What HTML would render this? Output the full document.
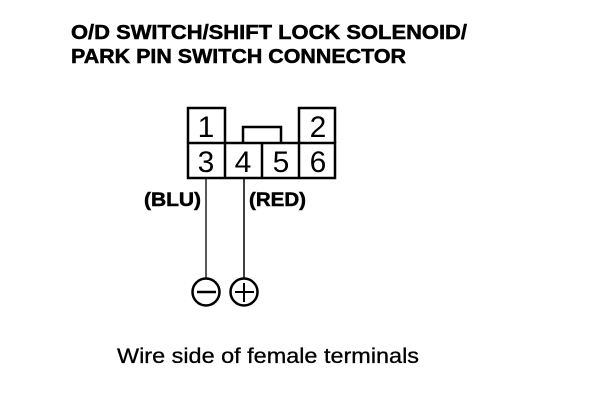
<!DOCTYPE html>
<html>
<head>
<meta charset="utf-8">
<style>
html,body{margin:0;padding:0;background:#fff;width:608px;height:406px;overflow:hidden}
svg{display:block}
text{font-family:"Liberation Sans",sans-serif;fill:#000}
</style>
</head>
<body>
<svg width="608" height="406" viewBox="0 0 608 406" xmlns="http://www.w3.org/2000/svg">
<g font-weight="bold" font-size="20" stroke="#000" stroke-width="0.5">
<text x="71" y="39" textLength="396" lengthAdjust="spacingAndGlyphs">O/D SWITCH/SHIFT LOCK SOLENOID/</text>
<text x="71" y="63" textLength="335" lengthAdjust="spacingAndGlyphs">PARK PIN SWITCH CONNECTOR</text>
</g>
<g fill="none" stroke="#000" stroke-width="2.5">
<path d="M188 143V108H225V143"/>
<path d="M299 143V108H335V143"/>
<path d="M243 143V127H281V143"/>
<rect x="188" y="143" width="147" height="35"/>
<path d="M225 143V178M262 143V178M299 143V178"/>
</g>
<g font-size="30" text-anchor="middle">
<text x="206" y="137">1</text>
<text x="318" y="137">2</text>
<text x="206" y="172">3</text>
<text x="243" y="172">4</text>
<text x="281" y="172">5</text>
<text x="318" y="172">6</text>
</g>
<g font-weight="bold" font-size="19" stroke="#000" stroke-width="0.5">
<text x="144" y="206" textLength="57" lengthAdjust="spacingAndGlyphs">(BLU)</text>
<text x="249" y="206" textLength="57" lengthAdjust="spacingAndGlyphs">(RED)</text>
</g>
<g fill="none" stroke="#000">
<path d="M206 178V278" stroke-width="1.3"/>
<path d="M244 178V278" stroke-width="1.5"/>
<circle cx="206" cy="292" r="13.5" stroke-width="2.5"/>
<circle cx="244" cy="292" r="13.5" stroke-width="2.5"/>
<path d="M197 292H216" stroke-width="2.5"/>
<path d="M235 292H254M244 283V302" stroke-width="2"/>
</g>
<text x="117" y="363" font-size="21" stroke="#000" stroke-width="0.3" textLength="302" lengthAdjust="spacingAndGlyphs">Wire side of female terminals</text>
</svg>
</body>
</html>
